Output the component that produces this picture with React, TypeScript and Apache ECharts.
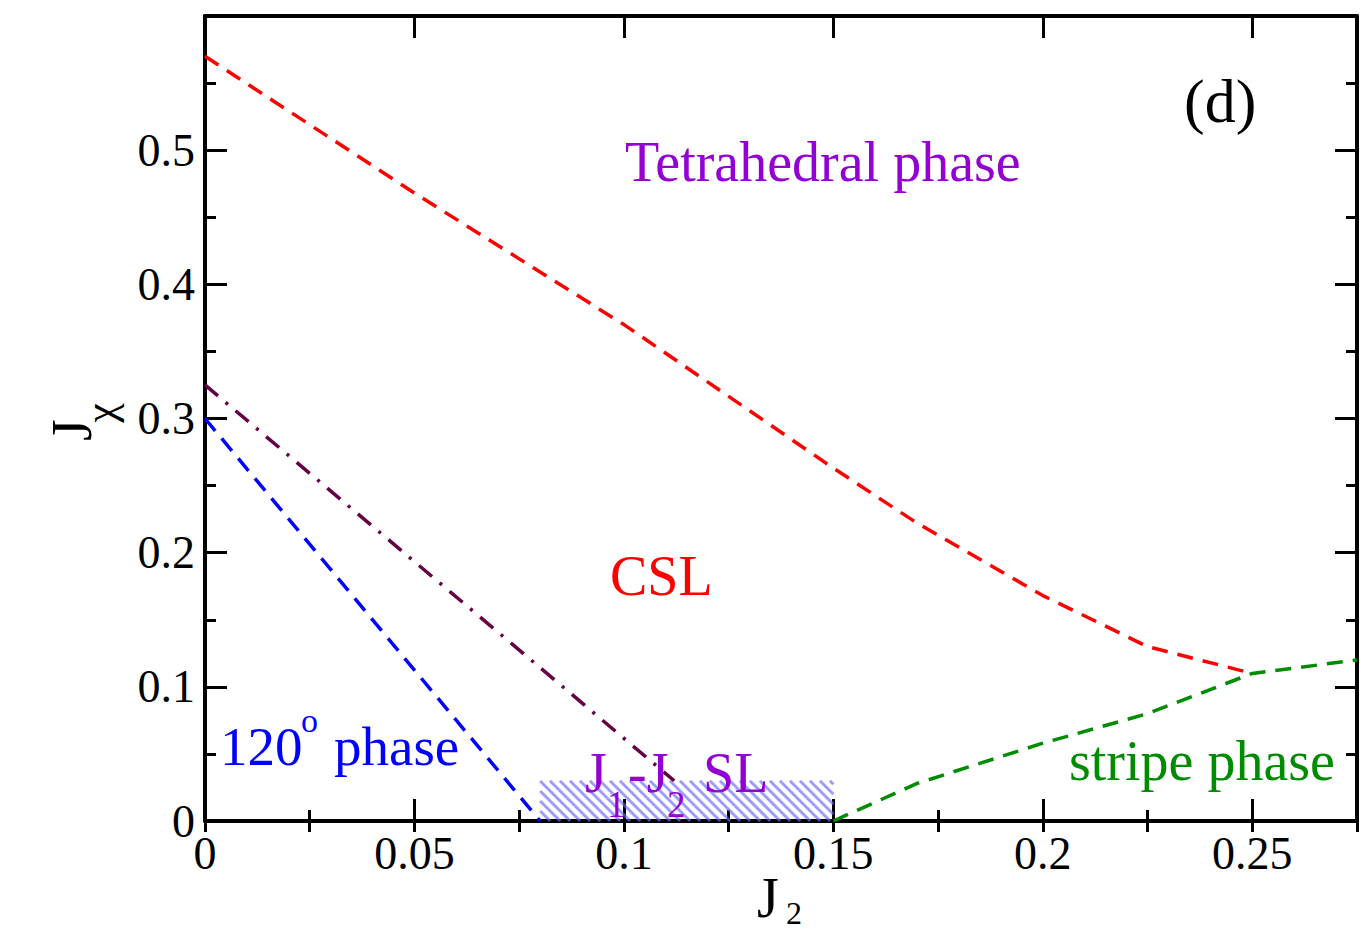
import React, { useEffect, useRef } from 'react';
import * as echarts from 'echarts';

// Tick labels on the axes
const xTickValues = [0, 0.05, 0.1, 0.15, 0.2, 0.25];
const yTickValues = [0, 0.1, 0.2, 0.3, 0.4, 0.5];

// Phase boundaries, points are [J2, Jchi]
const tetraCslBoundary = [
  [0, 0.57], [0.05, 0.468], [0.1, 0.37], [0.15, 0.263], [0.17, 0.222],
  [0.2, 0.168], [0.225, 0.13], [0.25, 0.11],
];
const stripeBoundary = [
  [0.15, 0], [0.17, 0.028], [0.2, 0.058], [0.225, 0.08], [0.25, 0.11], [0.275, 0.12],
];
const order120Boundary = [[0, 0.3], [0.08, 0]];
const slBoundary = [[0, 0.325], [0.112, 0.03]];
// J1-J2 spin-liquid window: [J2 from, Jchi from, J2 to, Jchi to]
const slRegion = [[0.08, 0, 0.15, 0.03]];

const FONT = "'Liberation Serif', 'Times New Roman', Times, serif";

const fmt = (allowed: number[]) => (v: number) => {
  const hit = allowed.find((a) => Math.abs(a - v) < 1e-9);
  return hit === undefined ? '' : String(hit);
};

const txt = (text: string, x: number, y: number, fontSize: number, fill: string, extra: any = {}) => ({
  type: 'text',
  x,
  y,
  z: 100,
  silent: true,
  ...extra,
  style: {
    text,
    fontSize,
    fontFamily: FONT,
    fill,
    align: extra.align || 'left',
    verticalAlign: 'middle',
  },
});

export default function App() {
  const ref = useRef<HTMLDivElement>(null);

  useEffect(() => {
    if (!ref.current) return;
    const chart = echarts.init(ref.current, null, { renderer: 'svg' });

    const axisLine = { show: true, onZero: false, lineStyle: { color: '#000', width: 4 } };
    const majorTick = { show: true, inside: true, length: 22, lineStyle: { color: '#000', width: 3 } };
    const minorTickX = { show: true, inside: true, length: 11, lineStyle: { color: '#000', width: 3 } };

    const xMajor = (position: string, labels: boolean) => ({
      type: 'value',
      position,
      min: 0,
      max: 0.275,
      interval: 0.05,
      axisLine,
      axisTick: majorTick,
      splitLine: { show: false },
      axisLabel: labels
        ? { show: true, formatter: fmt(xTickValues), fontSize: 46, fontFamily: FONT, color: '#000', margin: 9 }
        : { show: false },
    });
    const xMinor = (position: string) => ({
      type: 'value',
      position,
      min: 0,
      max: 0.275,
      interval: 0.025,
      axisLine: { show: false },
      axisTick: minorTickX,
      splitLine: { show: false },
      axisLabel: { show: false },
    });
    const yAxis = (position: string, labels: boolean) => ({
      type: 'value',
      position,
      min: 0,
      max: 0.6,
      interval: 0.1,
      axisLine,
      axisTick: majorTick,
      minorTick: { show: true, splitNumber: 2, length: 11, lineStyle: { color: '#000', width: 3 } },
      splitLine: { show: false },
      minorSplitLine: { show: false },
      axisLabel: labels
        ? { show: true, formatter: fmt(yTickValues), fontSize: 46, fontFamily: FONT, color: '#000', margin: 10 }
        : { show: false },
    });

    const dashed = (name: string, data: number[][], color: string, type: any) => ({
      name,
      type: 'line',
      data,
      xAxisIndex: 0,
      yAxisIndex: 0,
      symbol: 'none',
      silent: true,
      z: 5,
      lineStyle: { color, width: 3.5, type },
    });

    chart.setOption({
      animation: false,
      backgroundColor: '#fff',
      grid: { left: 205, top: 16, right: 12, bottom: 115, containLabel: false },
      xAxis: [xMajor('bottom', true), xMinor('bottom'), xMajor('top', false), xMinor('top')],
      yAxis: [yAxis('left', true), yAxis('right', false)],
      series: [
        {
          name: 'J1-J2 SL',
          type: 'custom',
          xAxisIndex: 0,
          yAxisIndex: 0,
          data: slRegion,
          encode: { x: [0, 2], y: [1, 3] },
          silent: true,
          z: 2,
          renderItem: (_params: any, api: any) => {
            const p0 = api.coord([api.value(0), api.value(3)]);
            const p1 = api.coord([api.value(2), api.value(1)]);
            const left = p0[0];
            const top = p0[1];
            const right = p1[0];
            const bottom = p1[1];
            const h = bottom - top;
            const step = 10;
            const children: any[] = [];
            for (let x0 = left - h; x0 < right; x0 += step) {
              let sx, sy, ex, ey;
              if (x0 >= left) { sx = x0; sy = top; } else { sx = left; sy = top + (left - x0); }
              if (x0 + h <= right) { ex = x0 + h; ey = bottom; } else { ex = right; ey = top + (right - x0); }
              children.push({
                type: 'line',
                shape: { x1: sx, y1: sy, x2: ex, y2: ey },
                style: { stroke: 'rgba(105,105,255,0.65)', lineWidth: 3 },
              });
            }
            return { type: 'group', children };
          },
        },
        dashed('tetrahedral / CSL', tetraCslBoundary, '#ff0000', [16, 10]),
        dashed('stripe', stripeBoundary, '#008c00', [16, 10]),
        dashed('120 degree', order120Boundary, '#0000ff', [16, 10]),
        dashed('J1-J2 SL', slBoundary, '#660044', [17, 10, 3, 10]),
      ],
      graphic: [
        txt('Tetrahedral phase', 625, 162, 56, '#9400d3'),
        txt('CSL', 610, 576, 56, '#ff0000'),
        txt('120', 220, 746, 55, '#0000ff'),
        txt('o', 301, 720, 34, '#0000ff'),
        txt('phase', 334, 746, 55, '#0000ff'),
        txt('J', 585, 773, 56, '#9400d3'),
        txt('1', 607, 804, 37, '#9400d3'),
        txt('-J', 628, 773, 56, '#9400d3'),
        txt('2', 667, 804, 37, '#9400d3'),
        txt('SL', 703, 773, 56, '#9400d3'),
        txt('stripe phase', 1069, 761, 56, '#008c00'),
        txt('(d)', 1184, 101, 62, '#000'),
        // axis titles
        txt('J', 757, 898, 56, '#000'),
        txt('2', 786, 913, 32, '#000'),
        txt('J', 72, 430, 56, '#000', { rotation: Math.PI / 2, align: 'center' }),
        txt('χ', 100, 413, 44, '#000', { rotation: Math.PI / 2, align: 'center' }),
      ],
    });

    return () => chart.dispose();
  }, []);

  return (
    <div
      ref={ref}
      style={{ position: 'absolute', left: 0, top: 0, width: 1369, height: 936, background: '#fff' }}
    />
  );
}
